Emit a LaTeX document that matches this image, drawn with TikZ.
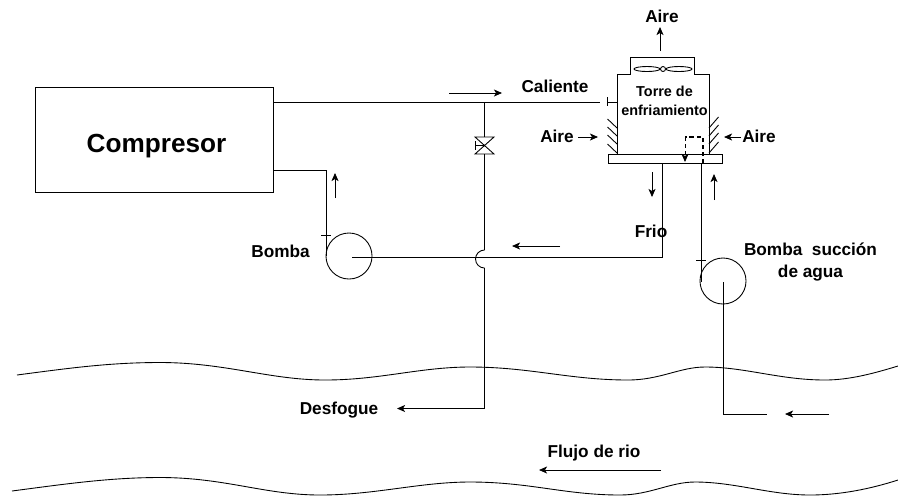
\documentclass[tikz,border=0pt]{standalone}
\usepackage{fontspec}
\setmainfont{Liberation Sans}
\usepackage{tikz}
\usetikzlibrary{calc, positioning, arrows.meta}

\tikzset{
    pipe/.style={line width=0.5pt, line join=miter},
    flecha/.style={->, line width=0.45pt},
    etiqueta/.style={font=\fontsize{9.8}{12.5}\selectfont\bfseries, align=center, inner sep=0pt},
    bomba/.style={circle, draw, line width=0.5pt, minimum size=26.2pt, inner sep=0pt}
}

\begin{document}
\begin{tikzpicture}[>={Stealth[length=4.6pt,width=4pt,inset=1.2pt]}, x=0.02cm, y=-0.02cm]
    \useasboundingbox (0,0) rectangle (898,495);
    % 1. Compresor
    \node[draw, line width=0.5pt, minimum width=135.5pt, minimum height=59.7pt, inner sep=0pt] (compresor) at (154.5,139.5) {};
    \node[font=\fontsize{14.9}{18}\selectfont\bfseries, inner sep=0pt] (nombre) at (156.5,146) {Compresor};

    % 2. Torre de enfriamiento
    \draw[pipe] (617,154) -- (617,74) -- (630,74) -- (630,57) -- (694,57) -- (694,74) -- (709,74) -- (709,154);
    \node[draw, line width=0.5pt, minimum width=65.2pt, minimum height=5.1pt, inner sep=0pt] (tina) at (665.5,158.5) {};
    \node[etiqueta, font=\fontsize{8.2}{10.8}\selectfont\bfseries] (torre) at (664.5,101) {Torre de\\enfriamiento};
    \draw[pipe] (663,69) circle (2.5);
    \draw[pipe] (647,69) ellipse (13 and 2.5);
    \draw[pipe] (679,69) ellipse (13 and 2.5);
    \foreach \y in {128,136,144,153} {
        \draw[pipe] (617,\y) -- (607.5,\y-9);
        \draw[pipe] (709,\y) -- (718.5,\y-11);
    }

    % 3. Bombas
    \node[bomba] (bomba1) at (349,256) {};
    \node[bomba] (bomba2) at (723,281) {};
    \coordinate (salida) at (352,257);
    \coordinate (centro) at (723.5,282);

    % 4. Tuberias
    \draw[pipe] (274,102) -- (600,102);
    \draw[pipe] (607,102) -- (617,102);
    \draw[pipe] (607,97) -- (607,106);
    \draw[pipe] (274,170.5) -- (326,170.5) -- (326,256);
    \draw[pipe] (321,235) -- (331,235);
    \draw[pipe] (salida) -- (662,257) -- (662,163);
    \draw[pipe] (701,163) -- (701,282);
    \draw[pipe] (696,260) -- (706,260);
    \draw[pipe] (centro) -- (723.5,414) -- (767,414);
    \draw[pipe] (484.5,102) -- (484.5,137);
    \draw[pipe] (484.5,154) -- (484.5,250);
    \draw[pipe] (484.5,250) arc (270:90:9);
    \draw[->, pipe] (484.5,268) -- (484.5,408.5) -- (397,408.5);

    % 5. Valvula
    \draw[pipe] (475,137) -- (494,137) -- (475,154) -- (494,154) -- cycle;
    \draw[pipe] (484.5,145) -- (475,145);
    \draw[pipe] (475,141) -- (475,150);

    % 6. Agua en la torre
    \draw[line width=0.9pt, dash pattern=on 2.5pt off 1.5pt] (703,163) -- (703,137) -- (685,137);
    \draw[->, line width=0.5pt, dash pattern=on 2.5pt off 1.5pt] (685,137) -- (685,162);

    % 7. Flechas
    \draw[flecha] (449,93) -- (502,93);
    \draw[flecha] (335,198) -- (335,173);
    \draw[flecha] (652,172) -- (652,197);
    \draw[flecha] (714,200) -- (714,174);
    \draw[flecha] (560,246) -- (512,246);
    \draw[flecha] (660,51) -- (660,27);
    \draw[flecha] (578,137) -- (598,137);
    \draw[flecha] (741,137) -- (724,137);
    \draw[flecha] (829,414) -- (785,414);
    \draw[flecha] (661,470) -- (539,470);

    % 8. Rio
    \draw[pipe] (17,375) .. controls (70,368) and (110,362.5) .. (160,362.5) .. controls (225,362.5) and (270,380) .. (325,380)
        .. controls (380,380) and (420,367) .. (470,367) .. controls (530,367) and (570,380) .. (628,380)
        .. controls (660,380) and (680,367) .. (705,367) .. controls (745,367) and (780,380) .. (825,380)
        .. controls (850,380) and (875,373) .. (898,366);
    \draw[pipe] (12,491) .. controls (65,484) and (110,477.5) .. (160,477.5) .. controls (225,477.5) and (265,495) .. (320,495)
        .. controls (375,495) and (420,482) .. (470,482) .. controls (530,482) and (565,495) .. (620,495)
        .. controls (650,495) and (670,482) .. (695,482) .. controls (735,482) and (770,495) .. (810,495)
        .. controls (840,495) and (870,489) .. (898,480);

    % 9. Etiquetas
    \node[etiqueta] (caliente) at (555,86) {Caliente};
    \node[etiqueta] (aire1) at (662,16) {Aire};
    \node[etiqueta] (aire2) at (557,136) {Aire};
    \node[etiqueta] (aire3) at (759,136) {Aire};
    \node[etiqueta] (bomba) at (280.5,251) {Bomba};
    \node[etiqueta] (frio) at (651,231) {Frio};
    \node[etiqueta] (succion) at (810.5,262) {Bomba\ \ succión\\de agua};
    \node[etiqueta] (desfogue) at (339,410) {Desfogue};
    \node[etiqueta] (flujo) at (594,453) {Flujo de rio};
\end{tikzpicture}
\end{document}
